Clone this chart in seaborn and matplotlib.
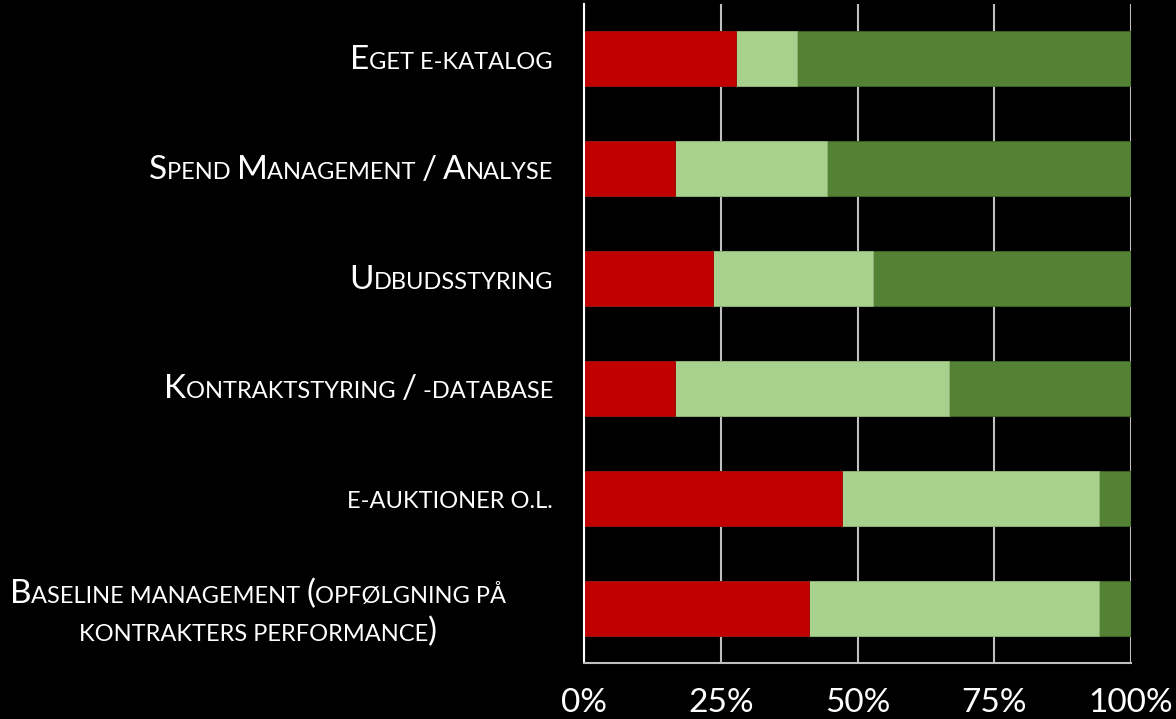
import matplotlib
matplotlib.use("Agg")
import matplotlib.pyplot as plt
import seaborn as sns
import pandas as pd
from matplotlib.font_manager import FontProperties
from matplotlib.transforms import IdentityTransform

# ---------------- data ----------------
categories = [
    "Eget e-katalog",
    "Spend Management / Analyse",
    "Udbudsstyring",
    "Kontraktstyring / -database",
    "e-auktioner o.l.",
    "Baseline management (opfølgning på\nkontrakters performance)",
]
red_vals = [27.8, 16.7, 23.5, 16.7, 47.1, 41.2]
light_vals = [11.1, 27.8, 29.4, 50.0, 47.1, 52.9]
dark_vals = [61.1, 55.5, 47.1, 33.3, 5.8, 5.9]
xticks = [0, 25, 50, 75, 100]
xtick_labels = ["0%", "25%", "50%", "75%", "100%"]

# ---------------- style ----------------
sns.set_theme(style="dark")
FONT = ["Lato", "DejaVu Sans"]
WEIGHT = "normal"
plt.rcParams["font.family"] = FONT

W, H = 1176, 719
fig = plt.figure(figsize=(W / 100, H / 100), dpi=100, facecolor="black")
ax = fig.add_axes([584 / W, 1 - 663 / H, 547 / W, 659 / H])
ax.set_facecolor("black")

df = pd.DataFrame({
    "cat": categories,
    "s1": red_vals,
    "s2": [r + l for r, l in zip(red_vals, light_vals)],
    "s3": [r + l + d for r, l, d in zip(red_vals, light_vals, dark_vals)],
})

RED, LIGHT, DARK = "#C00000", "#A9D18E", "#548235"
sns.barplot(data=df, y="cat", x="s3", color=DARK, saturation=1, width=0.5,
            orient="h", ax=ax, errorbar=None, edgecolor="#3f6528", linewidth=0.6)
sns.barplot(data=df, y="cat", x="s2", color=LIGHT, saturation=1, width=0.5,
            orient="h", ax=ax, errorbar=None, edgecolor="#8fb278", linewidth=0.6)
sns.barplot(data=df, y="cat", x="s1", color=RED, saturation=1, width=0.5,
            orient="h", ax=ax, errorbar=None, edgecolor="#9a0000", linewidth=0.6)

ax.set_xlim(0, 100)
ax.set_xticks(xticks)
ax.set_xticklabels(xtick_labels, color="white", fontsize=24,
                   fontfamily=FONT, fontweight=WEIGHT)
ax.tick_params(axis="x", length=0, pad=18)
ax.set_yticklabels([])
ax.tick_params(axis="y", length=0)
ax.set_xlabel("")
ax.set_ylabel("")
ax.xaxis.grid(True, color="#bfbfbf", linewidth=1.5)
ax.yaxis.grid(False)
ax.set_axisbelow(True)
for s in ("top", "right"):
    ax.spines[s].set_visible(False)
ax.spines["left"].set_color("white")
ax.spines["left"].set_linewidth(1.5)
ax.spines["bottom"].set_color("#bfbfbf")
ax.spines["bottom"].set_linewidth(1.5)

# ---------------- small-caps category labels ----------------
BIG, SMALL = 24, 17
renderer = fig.canvas.get_renderer()
_cache = {}


def text_width(s, size):
    key = (s, size)
    if key not in _cache:
        fp = FontProperties(family=FONT, size=size, weight=WEIGHT)
        t1 = fig.text(0, 0, "H" + s + "H", fontproperties=fp)
        t2 = fig.text(0, 0, "HH", fontproperties=fp)
        w = t1.get_window_extent(renderer).width - t2.get_window_extent(renderer).width
        t1.remove()
        t2.remove()
        _cache[key] = w
    return _cache[key]


def runs_of(line):
    runs = []
    for ch in line:
        if ch.isalpha():
            big = ch.isupper()
        else:
            big = ch in "()/"
        size = BIG if big else SMALL
        if runs and runs[-1][1] == size:
            runs[-1][0] += ch.upper()
        else:
            runs.append([ch.upper(), size])
    return runs


def draw_line(line, x, y, align):
    runs = runs_of(line)
    widths = [text_width(r, s) for r, s in runs]
    total = sum(widths)
    x0 = x - total if align == "right" else x - total / 2
    for (r, s), w in zip(runs, widths):
        fig.text(x0, y, r, transform=IdentityTransform(), fontsize=s,
                 fontfamily=FONT, fontweight=WEIGHT, color="white",
                 va="baseline", ha="left")
        x0 += w


RIGHT_EDGE = 553
CENTER_X = 258
CAP_HALF = 10
LINE_GAP = 38
for i, cat in enumerate(categories):
    yc = ax.transData.transform((0, i))[1]
    lines = cat.split("\n")
    if len(lines) == 1:
        draw_line(lines[0], RIGHT_EDGE, yc - CAP_HALF, "right")
    else:
        n = len(lines)
        for k, ln in enumerate(lines):
            y = yc - 4 + (n - 1) / 2 * LINE_GAP - k * LINE_GAP - CAP_HALF
            draw_line(ln, CENTER_X, y, "center")

fig.savefig("out.png", dpi=100, facecolor="black")
